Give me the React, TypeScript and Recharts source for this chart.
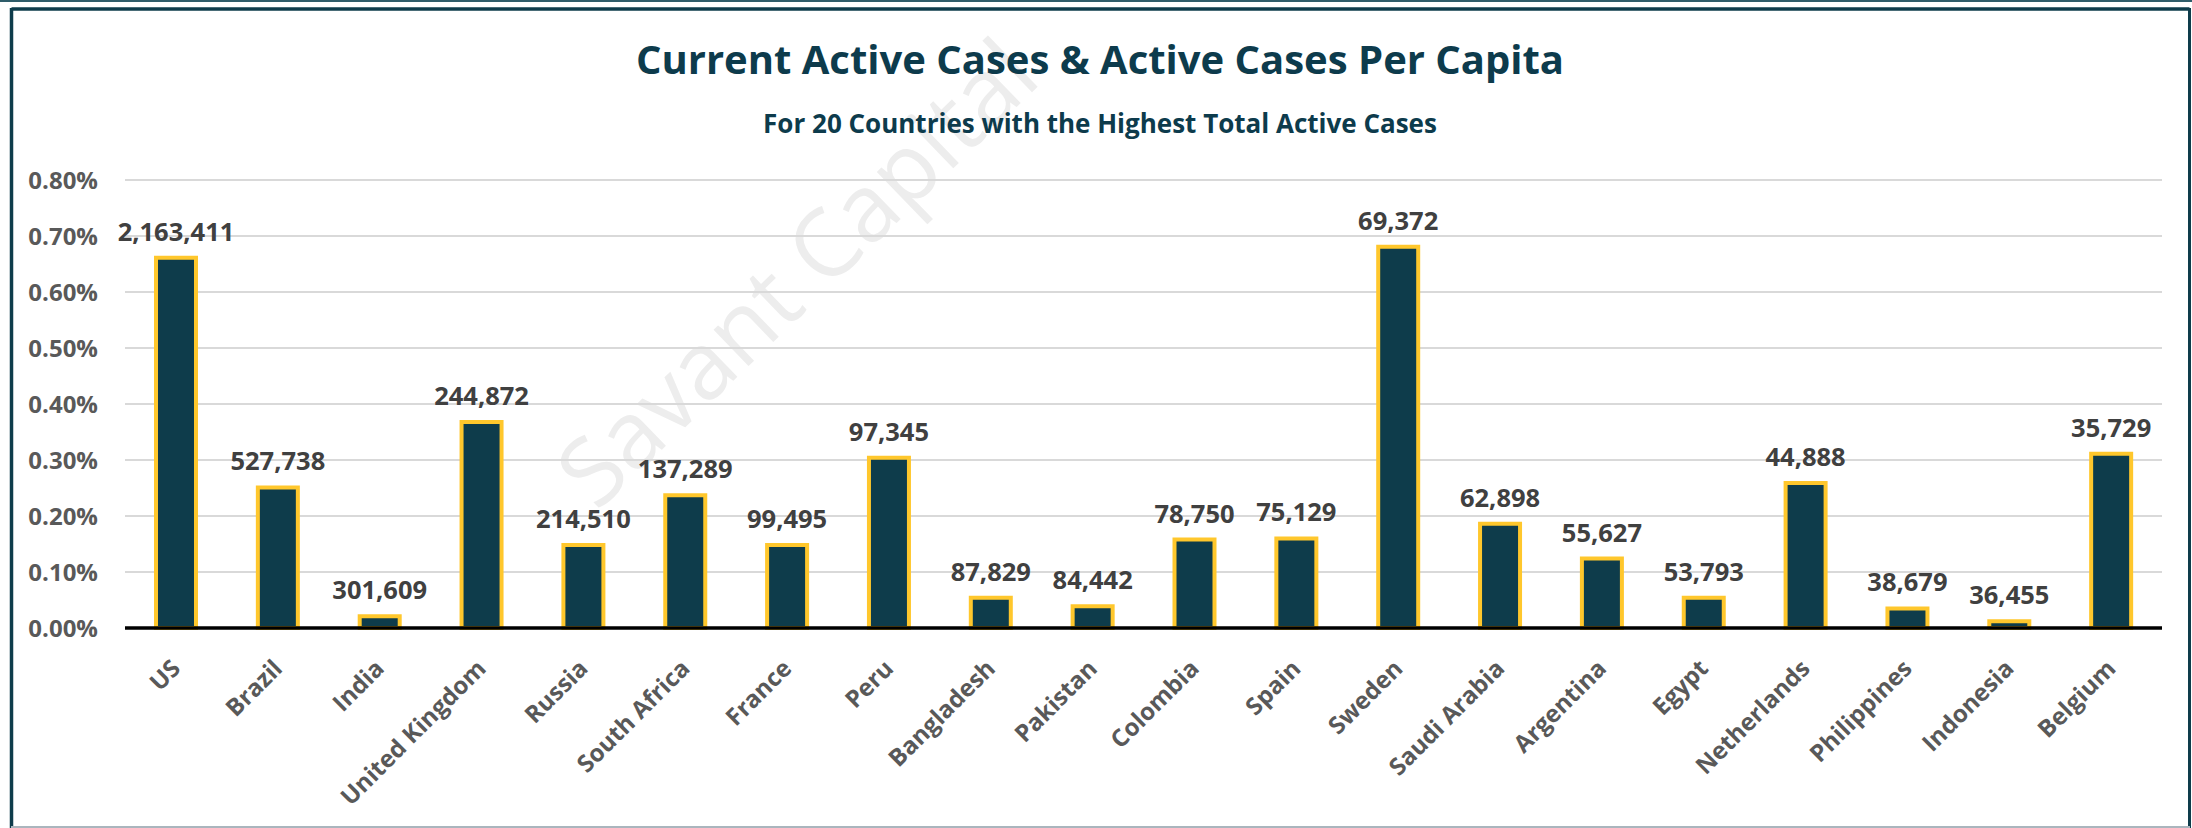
import React from "react";
import { BarChart, Bar, XAxis, YAxis, CartesianGrid, LabelList } from "recharts";

const countries = [
  "US", "Brazil", "India", "United Kingdom", "Russia", "South Africa", "France", "Peru",
  "Bangladesh", "Pakistan", "Colombia", "Spain", "Sweden", "Saudi Arabia", "Argentina",
  "Egypt", "Netherlands", "Philippines", "Indonesia", "Belgium",
];
const activeCases = [
  2163411, 527738, 301609, 244872, 214510, 137289, 99495, 97345, 87829, 84442,
  78750, 75129, 69372, 62898, 55627, 53793, 44888, 38679, 36455, 35729,
];
// active cases per capita, in percent
const perCapitaPct = [
  0.661, 0.251, 0.021, 0.368, 0.148, 0.237, 0.148, 0.304, 0.054, 0.039,
  0.158, 0.16, 0.681, 0.186, 0.124, 0.054, 0.259, 0.035, 0.012, 0.311,
];
const yTicks = [0, 0.1, 0.2, 0.3, 0.4, 0.5, 0.6, 0.7, 0.8];

const data = countries.map((name, i) => ({
  name,
  cases: activeCases[i],
  pct: perCapitaPct[i],
}));

const FONT = "'Open Sans', 'Noto Sans', sans-serif";
const TEAL = "#0e3c4b";
const GOLD = "#ffc72c";

const CountryTick = (props: any) => {
  const { x, y, payload } = props;
  const ax = x + 6;
  const ay = y + 42;
  return (
    <text
      x={ax}
      y={ay}
      textAnchor="end"
      transform={`rotate(-45 ${ax} ${ay})`}
      fill="#595959"
      fontFamily={FONT}
      fontWeight={700}
      fontSize={24}
    >
      {payload.value}
    </text>
  );
};

const CasesLabel = (props: any) => {
  const { x, y, width, value } = props;
  return (
    <text
      x={x + width / 2}
      y={y - 17}
      textAnchor="middle"
      fill="#404040"
      fontFamily={FONT}
      fontWeight={700}
      fontSize={25.5}
    >
      {Number(value).toLocaleString("en-US")}
    </text>
  );
};

export default function App() {
  return (
    <div style={{ position: "relative", width: 2192, height: 828, background: "#fff", overflow: "hidden" }}>
      <style>{"body{margin:0}"}</style>
      <svg width={2192} height={828} style={{ position: "absolute", left: 0, top: 0 }}>
        <rect x={0} y={0} width={2192} height={2} fill="#2f5d6a" />
        {/* faint watermark */}
        <text
          x={795}
          y={271}
          textAnchor="middle"
          dominantBaseline="central"
          transform="rotate(-44 795 271)"
          fill="#ededed"
          fontFamily={FONT}
          fontWeight={400}
          fontSize={94}
        >
          Savant Capital
        </text>
        <line x1={11.5} y1={9} x2={2189.5} y2={9} stroke={TEAL} strokeWidth={3.5} />
        <line x1={11.5} y1={8} x2={11.5} y2={828} stroke={TEAL} strokeWidth={3.5} />
        <line x1={2189.5} y1={8} x2={2189.5} y2={828} stroke={TEAL} strokeWidth={3} />
        <line x1={11} y1={827} x2={2190} y2={827} stroke="#aab5bd" strokeWidth={2} />
        <text x={1100} y={74} textAnchor="middle" fill="#0d3b4c" fontFamily={FONT} fontWeight={700} fontSize={40}>
          Current Active Cases &amp; Active Cases Per Capita
        </text>
        <text x={1100} y={133} textAnchor="middle" fill="#0d3b4c" fontFamily={FONT} fontWeight={700} fontSize={26}>
          For 20 Countries with the Highest Total Active Cases
        </text>
      </svg>
      <div style={{ position: "absolute", left: 0, top: 0 }}>
        <BarChart
          width={2192}
          height={828}
          data={data}
          margin={{ top: 180, right: 30, bottom: 10, left: 25 }}
          barCategoryGap="0%"
        >
          <CartesianGrid vertical={false} stroke="#d9d9d9" strokeWidth={2} />
          <YAxis
            domain={[0, 0.8]}
            ticks={yTicks}
            width={100}
            axisLine={false}
            tickLine={false}
            tickSize={0}
            tickMargin={27}
            tickFormatter={(v: number) => `${v.toFixed(2)}%`}
            tick={{ fill: "#595959", fontFamily: FONT, fontWeight: 700, fontSize: 24 }}
          />
          <XAxis
            dataKey="name"
            height={190}
            interval={0}
            tickLine={false}
            tickSize={0}
            tickMargin={0}
            axisLine={{ stroke: "#000", strokeWidth: 3.5 }}
            tick={<CountryTick />}
          />
          <Bar dataKey="pct" fill={TEAL} stroke={GOLD} strokeWidth={4} barSize={40} isAnimationActive={false}>
            <LabelList dataKey="cases" content={<CasesLabel />} />
          </Bar>
        </BarChart>
      </div>
    </div>
  );
}
